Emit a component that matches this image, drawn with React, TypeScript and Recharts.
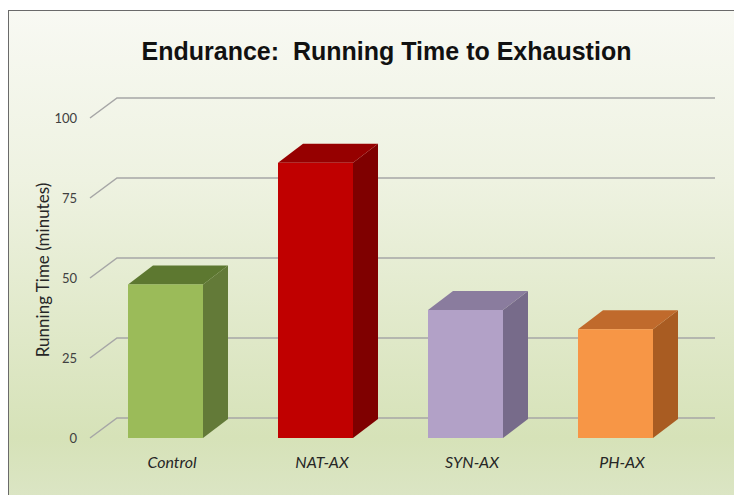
import React from 'react';
import { BarChart, Bar, XAxis, YAxis, CartesianGrid } from 'recharts';

const categories = ['Control', 'NAT-AX', 'SYN-AX', 'PH-AX'];
const runningTime = [48, 86, 40, 34];
const yTicks = [0, 25, 50, 75, 100];

const frontColors = ['#9bbb59', '#c00000', '#b2a1c7', '#f79646'];
const topColors = ['#5d7830', '#960000', '#8a7c9e', '#c06a2c'];
const sideColors = ['#637a38', '#7f0000', '#776b8a', '#a95c22'];

const data = categories.map((name, i) => ({ name, value: runningTime[i] }));

const DX = 25;
const DY = -19;

const Bar3D = (props: any) => {
    const { x, y, width, height, index } = props;
    const top = `${x},${y} ${x + DX},${y + DY} ${x + width + DX},${y + DY} ${x + width},${y}`;
    const side = `${x + width},${y} ${x + width + DX},${y + DY} ${x + width + DX},${y + height + DY} ${x + width},${y + height}`;
    return (
        <g>
            <polygon points={side} fill={sideColors[index]} />
            <polygon points={top} fill={topColors[index]} />
            <rect x={x} y={y} width={width} height={height} fill={frontColors[index]} />
        </g>
    );
};

const gridLine = (props: any) => {
    const { x1, x2, y1, key } = props;
    return (
        <path
            key={key}
            d={`M${x1},${y1} L${x1 + 27},${y1 - 20} L${x2 + 25},${y1 - 20}`}
            stroke="#a6a6a6"
            strokeWidth={1.5}
            fill="none"
        />
    );
};

const CategoryTick = (props: any) => {
    const { x, y, payload } = props;
    return (
        <text
            x={x + 7}
            y={y + 30}
            textAnchor="middle"
            fill="#262626"
            fontSize={16}
            fontStyle="italic"
            fontFamily="Lato, 'Open Sans', sans-serif"
        >
            {payload.value}
        </text>
    );
};

export default function App() {
    return (
        <div style={{ position: 'absolute', left: 0, top: 0, width: 734, height: 495, background: '#fff' }}>
            <div
                style={{
                    position: 'absolute',
                    left: 8,
                    top: 10,
                    width: 726,
                    height: 485,
                    borderTop: '1.5px solid #6a6a6a',
                    borderLeft: '1.5px solid #6a6a6a',
                    background: 'linear-gradient(to bottom, #f8f9f3 0%, #eef2e1 35%, #d6e2b8 88%, #dbe5c4 100%)',
                }}
            />
            <div
                style={{
                    position: 'absolute',
                    left: 0,
                    top: 37,
                    width: 773,
                    textAlign: 'center',
                    fontFamily: "'Liberation Sans', Arial, sans-serif",
                    fontWeight: 'bold',
                    fontSize: 25,
                    color: '#111',
                    whiteSpace: 'pre',
                }}
            >
                Endurance:  Running Time to Exhaustion
            </div>
            <div style={{ position: 'absolute', left: 0, top: 0 }}>
                <BarChart
                    width={734}
                    height={495}
                    data={data}
                    margin={{ top: 118, right: 44, bottom: 27, left: 30 }}
                    barCategoryGap="25%"
                >
                    <CartesianGrid horizontal={gridLine} vertical={false} />
                    <XAxis
                        dataKey="name"
                        axisLine={false}
                        tickLine={false}
                        tickSize={0}
                        tickMargin={0}
                        height={30}
                        tick={<CategoryTick />}
                        interval={0}
                    />
                    <YAxis
                        width={60}
                        domain={[0, 100]}
                        ticks={yTicks}
                        axisLine={false}
                        tickLine={false}
                        tickSize={0}
                        tickMargin={13}
                        tick={{ fill: '#404040', fontSize: 13, fontFamily: 'Lato, sans-serif' }}
                        label={{
                            content: () => (
                                <text
                                    x={42}
                                    y={270}
                                    transform="rotate(-90 42 270)"
                                    textAnchor="middle"
                                    dominantBaseline="central"
                                    fill="#262626"
                                    fontSize={17}
                                    fontFamily="Lato, sans-serif"
                                >
                                    Running Time (minutes)
                                </text>
                            ),
                        }}
                    />
                    <Bar dataKey="value" barSize={75} shape={<Bar3D />} isAnimationActive={false} />
                </BarChart>
            </div>
        </div>
    );
}
